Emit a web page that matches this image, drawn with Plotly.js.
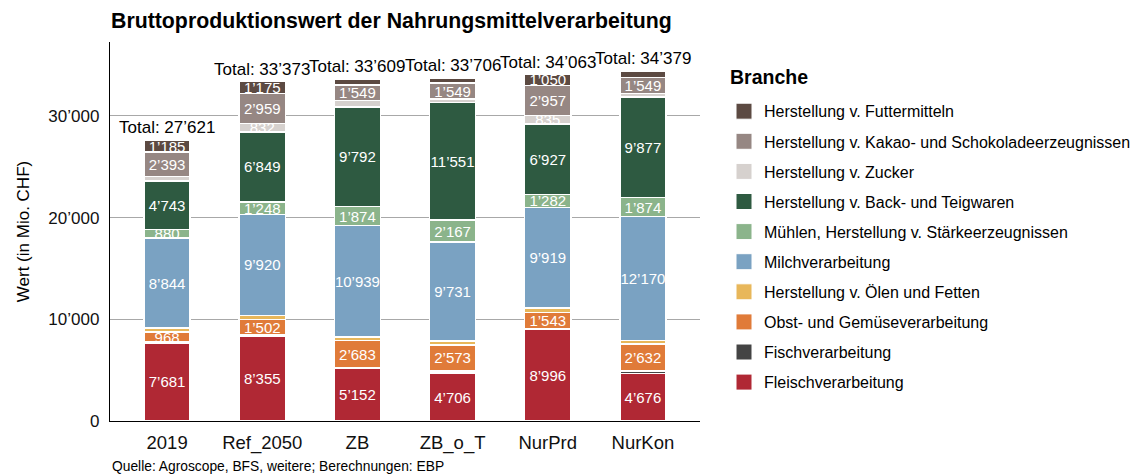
<!DOCTYPE html>
<html>
<head>
<meta charset="utf-8">
<script src="https://cdn.plot.ly/plotly-3.0.1.min.js"></script>
<style>html,body{margin:0;padding:0;background:#fff;}#chart{width:1136px;height:474px;}</style>
</head>
<body>
<div id="chart"></div>
<script>
const categories = ['2019', 'Ref_2050', 'ZB', 'ZB_o_T', 'NurPrd', 'NurKon'];
const fleisch = [7681, 8355, 5152, 4706, 8996, 4676];
const fisch   = [80, 130, 80, 219, 120, 251];
const obst    = [968, 1502, 2683, 2573, 1543, 2632];
const oele    = [400, 403, 360, 350, 434, 370];
const milch   = [8844, 9920, 10939, 9731, 9919, 12170];
const muehlen = [880, 1248, 1874, 2167, 1282, 1874];
const back    = [4743, 6849, 9792, 11551, 6927, 9877];
const zucker  = [447, 832, 620, 380, 835, 380];
const kakao   = [2393, 2959, 1549, 1549, 2957, 1549];
const futter  = [1185, 1175, 560, 480, 1050, 600];

const seriesNames = ['Fleischverarbeitung', 'Fischverarbeitung', 'Obst- und Gemüseverarbeitung',
  'Herstellung v. Ölen und Fetten', 'Milchverarbeitung', 'Mühlen, Herstellung v. Stärkeerzeugnissen',
  'Herstellung v. Back- und Teigwaren', 'Herstellung v. Zucker',
  'Herstellung v. Kakao- und Schokoladeerzeugnissen', 'Herstellung v. Futtermitteln'];
const seriesValues = [fleisch, fisch, obst, oele, milch, muehlen, back, zucker, kakao, futter];
const seriesColors = ['#b02834', '#444444', '#e07b39', '#e8b75a', '#7aa2c2', '#8bb48b',
  '#2e5a41', '#d6d1ce', '#968783', '#5c4a42'];

const yTicks = [0, 10000, 20000, 30000];
const labelMin = 800;
const FONT = 'Liberation Sans, Arial, sans-serif';

function fmt(v) {
  return String(Math.round(v)).replace(/\B(?=(\d{3})+(?!\d))/g, '\u2019');
}

const traces = [];
seriesNames.forEach((name, i) => {
  traces.push({
    type: 'bar', name: name, x: categories, y: seriesValues[i],
    marker: {color: seriesColors[i], line: {color: '#ffffff', width: 1.5}},
    text: seriesValues[i].map(v => v >= labelMin ? fmt(v) : ''),
    textposition: 'inside', insidetextanchor: 'middle', textangle: 0,
    constraintext: 'none', cliponaxis: false,
    textfont: {color: '#ffffff', size: 15, family: FONT},
    showlegend: false, hoverinfo: 'skip'
  });
});
// legend entries (top: Futtermittel ... bottom: Fleisch)
for (let i = seriesNames.length - 1; i >= 0; i--) {
  traces.push({
    type: 'scatter', mode: 'markers', name: seriesNames[i], x: [null], y: [null],
    legendgroup: 'g' + i,
    marker: {symbol: 'square', size: 16, color: seriesColors[i], line: {color: '#ffffff', width: 1}},
    showlegend: true, hoverinfo: 'skip'
  });
}

const totals = categories.map((c, j) => seriesValues.reduce((s, arr) => s + arr[j], 0));
const annotations = categories.map((c, j) => ({
  x: j, y: totals[j], xref: 'x', yref: 'y', text: 'Total: ' + fmt(totals[j]),
  showarrow: false, yanchor: 'bottom', yshift: 1,
  font: {size: 17, color: '#000000', family: FONT}
}));
annotations.push({
  xref: 'paper', yref: 'paper', x: 0, y: -0.119, xanchor: 'left', yanchor: 'middle',
  text: 'Quelle: Agroscope, BFS, weitere; Berechnungen: EBP', showarrow: false,
  font: {size: 13.8, color: '#000000', family: FONT}
});
annotations.push({
  xref: 'paper', yref: 'paper', x: 1.0475, y: 0.9077, xanchor: 'left', yanchor: 'middle',
  text: '<b>Branche</b>', showarrow: false,
  font: {size: 19.5, color: '#000000', family: FONT}
});

const layout = {
  width: 1136, height: 474,
  margin: {l: 110, r: 436, t: 42, b: 53, autoexpand: false},
  paper_bgcolor: '#ffffff', plot_bgcolor: '#ffffff',
  font: {family: FONT, color: '#000000'},
  barmode: 'stack', bargap: 0.516,
  title: {
    text: '<b>Bruttoproduktionswert der Nahrungsmittelverarbeitung</b>',
    x: 111 / 1136, xanchor: 'left', xref: 'container', y: 1 - 21 / 474, yanchor: 'middle', yref: 'container',
    font: {size: 21.3, color: '#000000', family: FONT}
  },
  xaxis: {
    type: 'category', range: [-0.6, 5.6], showgrid: false, zeroline: false,
    showline: true, linecolor: '#000000', linewidth: 1.2, ticks: '',
    ticklabelstandoff: 5, automargin: false,
    tickfont: {size: 18.5, color: '#111111'}
  },
  yaxis: {
    range: [0, 37270], tickvals: yTicks, ticktext: yTicks.map(fmt),
    showgrid: true, gridcolor: '#a8a8a8', gridwidth: 1, zeroline: false,
    showline: true, linecolor: '#000000', linewidth: 1.2, ticks: '',
    ticklabelstandoff: 6, automargin: false,
    tickfont: {size: 17, color: '#111111'},
    title: {text: 'Wert (in Mio. CHF)', font: {size: 17, color: '#000000'}, standoff: 14}
  },
  legend: {
    x: 1.0407, xanchor: 'left', y: 0.862, yanchor: 'top',
    traceorder: 'grouped', tracegroupgap: 6.3,
    font: {size: 16, color: '#000000'},
    bgcolor: 'rgba(0,0,0,0)'
  },
  annotations: annotations,
  showlegend: true
};

Plotly.newPlot('chart', traces, layout, {staticPlot: true, displayModeBar: false});
</script>
</body>
</html>
